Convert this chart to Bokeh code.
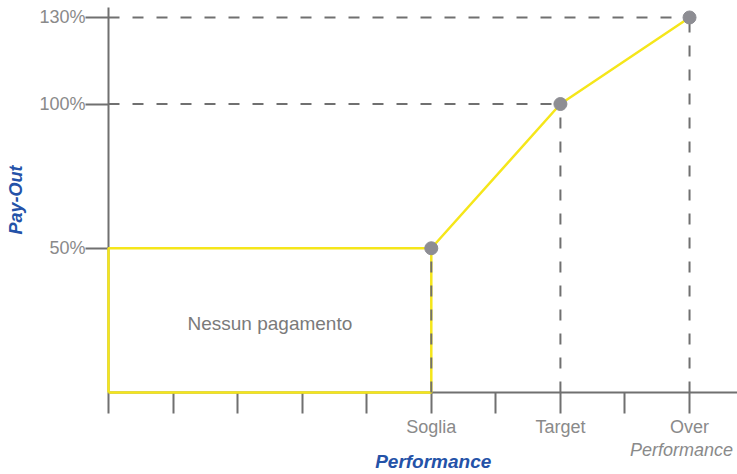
from bokeh.plotting import figure
from bokeh.models import Range1d, FixedTicker, PrintfTickFormatter, LinearAxis
from bokeh.core.properties import value
from bokeh.embed import file_html
from bokeh.resources import INLINE

# --- data ---
x_ticks = [0, 1, 2, 3, 4, 5, 6, 7, 8, 9]
x_tick_labels = {5: "Soglia", 7: "Target", 9: "Over"}
perf = [5, 7, 9]              # Soglia, Target, Over Performance
payout = [50, 100, 130]       # pay-out %
y_ticks = [50, 100, 130]
box_x = [0, 0, 5, 5, 0]       # "Nessun pagamento" area
box_y = [0, 50, 50, 0, 0]
curve_x = [5, 7, 9]
curve_y = [50, 100, 130]
hguide_x = [7, 9]
hguide_y = [100, 130]
over_second_line_x = 8.875
x_title_x = 5.03

FONT = "Liberation Sans"
GREY_TXT = "#8a8a8a"
AXIS_GREY = "#707070"
BLUE = "#2452a8"
YELLOW = "#f5e61a"

p = figure(width=737, height=474, output_backend="svg", toolbar_location=None,
           x_range=Range1d(0, 9.743), y_range=Range1d(0, 133.46),
           min_border_left=108, min_border_right=0, min_border_top=7,
           min_border_bottom=81)
p.outline_line_color = None
p.grid.visible = False
p.background_fill_color = "white"

# dashed guide lines
p.segment(x0=[0] * len(hguide_x), y0=hguide_y, x1=hguide_x, y1=hguide_y,
          line_color="#707070", line_width=2, line_dash="11 13")

# yellow "no payment" box and pay-out curve
r1 = p.line(box_x, box_y, line_color=YELLOW, line_width=2.5)
r2 = p.line(curve_x, curve_y, line_color=YELLOW, line_width=2.5)
r1.level = "overlay"
r2.level = "overlay"

r3 = p.segment(x0=perf, y0=[0] * len(perf), x1=perf, y1=payout,
               line_color="#707070", line_width=2, line_dash="11 13")
r3.level = "overlay"

r4 = p.scatter(perf, payout, size=13, fill_color="#8d8d93", line_color="#8d8d93")
r4.level = "overlay"

p.text(x=[2.5], y=[24], text=["Nessun pagamento"], text_align="center",
       text_baseline="middle", text_font=value(FONT), text_font_size="19px",
       text_color="#7a7a7a")

# axes
for ax in (p.xaxis[0], p.yaxis[0]):
    ax.axis_line_color = AXIS_GREY
    ax.axis_line_width = 2
    ax.major_tick_line_color = AXIS_GREY
    ax.major_tick_line_width = 2
    ax.major_tick_in = 0
    ax.minor_tick_line_color = None
    ax.major_label_text_font = FONT
    ax.major_label_text_font_size = "18px"
    ax.major_label_text_color = GREY_TXT

xa = p.xaxis[0]
xa.ticker = FixedTicker(ticks=x_ticks)
xa.major_label_overrides = {t: x_tick_labels.get(t, "") for t in x_ticks}
xa.major_tick_out = 21
xa.major_label_standoff = 3

ya = p.yaxis[0]
ya.ticker = FixedTicker(ticks=y_ticks)
ya.formatter = PrintfTickFormatter(format="%d%%")
ya.major_tick_out = 23
ya.major_label_standoff = 0
ya.axis_label = "Pay-Out"
ya.axis_label_text_font = FONT
ya.axis_label_text_font_style = "bold italic"
ya.axis_label_text_font_size = "18px"
ya.axis_label_text_color = BLUE
ya.axis_label_standoff = 10


def label_axis(pos, text, style, color, size, standoff):
    ax = LinearAxis(ticker=FixedTicker(ticks=[pos]))
    ax.major_label_overrides = {pos: text}
    ax.axis_line_color = None
    ax.major_tick_line_color = None
    ax.minor_tick_line_color = None
    ax.major_tick_out = 0
    ax.major_tick_in = 0
    ax.major_label_standoff = standoff
    ax.major_label_text_font = FONT
    ax.major_label_text_font_size = size
    ax.major_label_text_font_style = style
    ax.major_label_text_color = color
    p.add_layout(ax, "below")


# second line of the "Over Performance" tick label (italic)
label_axis(over_second_line_x, "Performance", "italic", GREY_TXT, "18px", 0)
# x axis title
label_axis(x_title_x, "Performance", "bold italic", BLUE, "19px", -12)

open("out.html", "w").write(file_html(p, INLINE))
